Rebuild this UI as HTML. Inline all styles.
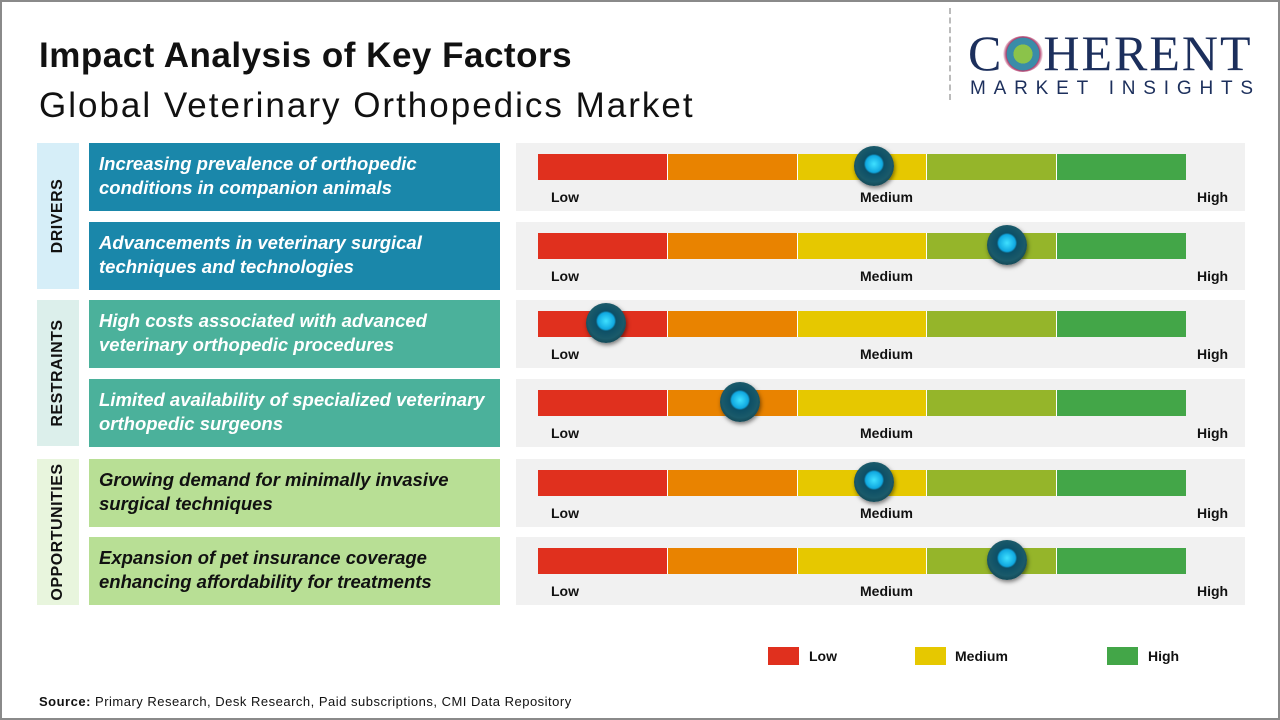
<!DOCTYPE html>
<html><head><style>
body{margin:0;width:1280px;height:720px;overflow:hidden;background:#fff;font-family:"Liberation Sans",sans-serif;}
.frame{position:absolute;left:0;top:0;width:1276px;height:716px;border:2px solid #8a8a8a;}
.t1{position:absolute;left:39px;top:36px;font-size:35px;font-weight:bold;color:#111;letter-spacing:0.5px}
.t2{position:absolute;left:39px;top:86px;font-size:35px;color:#111;letter-spacing:2px}
.cat{position:absolute;left:37px;width:42px;}
.cat span{position:absolute;left:50%;top:50%;transform:translate(-50%,-50%) rotate(-90deg);font-weight:bold;font-size:16px;color:#111;white-space:nowrap;letter-spacing:0.5px}
.box{position:absolute;left:89px;width:411px;height:68px;box-sizing:border-box;padding:9px 10px;font-size:18.5px;font-weight:bold;font-style:italic;line-height:24px;color:#fff;}
.panel{position:absolute;left:516px;width:729px;height:68px;background:#f1f1f1;}
.bar{position:absolute;left:22px;top:11px;height:26px;width:648px;display:flex;}
.bar div{flex:1;border-right:1.5px solid #fff}
.bar div:last-child{border:none}
.lbl{position:absolute;top:46px;font-size:14px;font-weight:bold;color:#111}
.knob{position:absolute;width:40px;height:40px;border-radius:50%;background:radial-gradient(circle at 50% 45%,#3fe0ff 0,#10a8e0 28%,#0d4f66 34%,#1a5a6a 60%,#0b2a33 100%);box-shadow:1px 2px 4px rgba(0,0,0,.5);}
.leg{position:absolute;top:647px;width:31px;height:18px}
.legt{position:absolute;top:648px;font-size:14px;font-weight:bold;color:#111}
</style></head><body>
<div class="frame"></div>
<div class="t1">Impact Analysis of Key Factors</div>
<div class="t2">Global Veterinary Orthopedics Market</div>
<div style="position:absolute;left:949px;top:8px;height:92px;border-left:2px dashed #bbb"></div>
<div style="position:absolute;left:968px;top:28px;font-family:'Liberation Serif',serif;font-size:50px;color:#1c2f5c;letter-spacing:2px;line-height:50px">C<span style="display:inline-block;width:40px;height:36px;vertical-align:-2px;background:radial-gradient(circle,#8bc34a 0,#8bc34a 35%,#3a8ca8 36%,#3a8ca8 60%,#b03a6a 62%,transparent 75%);border-radius:50%"></span>HERENT</div>
<div style="position:absolute;left:970px;top:78px;font-size:19px;color:#1c2f5c;letter-spacing:7.8px">MARKET INSIGHTS</div>

<div class="cat" style="top:143px;height:146px;background:#d6eef8"><span>DRIVERS</span></div>
<div class="cat" style="top:300px;height:146px;background:#dcefeb"><span>RESTRAINTS</span></div>
<div class="cat" style="top:459px;height:146px;background:#e8f5dd"><span>OPPORTUNITIES</span></div>

<div class="box" style="top:143px;background:#1a87aa">Increasing prevalence of orthopedic conditions in companion animals</div>
<div class="box" style="top:222px;background:#1a87aa">Advancements in veterinary surgical techniques and technologies</div>
<div class="box" style="top:300px;background:#4bb19b">High costs associated with advanced veterinary orthopedic procedures</div>
<div class="box" style="top:379px;background:#4bb19b">Limited availability of specialized veterinary orthopedic surgeons</div>
<div class="box" style="top:459px;background:#b8df95;color:#111">Growing demand for minimally invasive surgical techniques</div>
<div class="box" style="top:537px;background:#b8df95;color:#111">Expansion of pet insurance coverage enhancing affordability for treatments</div>

<div id="panels"></div>
<script>
var tops=[143,222,300,379,459,537],kx=[874,1007,606,740,874,1007],h='';
for(var i=0;i<6;i++){h+='<div class="panel" style="top:'+tops[i]+'px"><div class="bar"><div style="background:#e0301e"></div><div style="background:#e98300"></div><div style="background:#e6c800"></div><div style="background:#95b52a"></div><div style="background:#43a648"></div></div><div class="lbl" style="left:35px">Low</div><div class="lbl" style="left:344px">Medium</div><div class="lbl" style="left:681px">High</div><div class="knob" style="left:'+(kx[i]-516-20)+'px;top:3px"></div></div>';}
document.getElementById('panels').innerHTML=h;
</script>

<div class="leg" style="left:768px;background:#e0301e"></div><div class="legt" style="left:809px">Low</div>
<div class="leg" style="left:915px;background:#e6c800"></div><div class="legt" style="left:955px">Medium</div>
<div class="leg" style="left:1107px;background:#43a648"></div><div class="legt" style="left:1148px">High</div>
<div style="position:absolute;left:39px;top:694px;font-size:13px;color:#111;letter-spacing:0.5px"><b>Source:</b> Primary Research, Desk Research, Paid subscriptions, CMI Data Repository</div>
</body></html>
